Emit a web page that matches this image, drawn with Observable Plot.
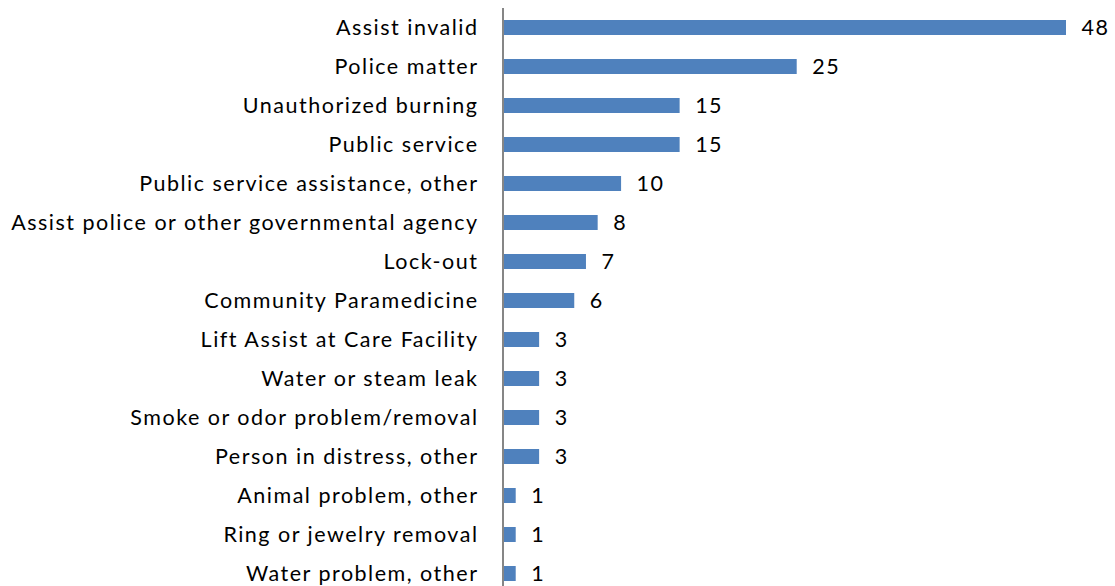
<!DOCTYPE html>
<html><head><meta charset="utf-8">
<script src="https://cdn.jsdelivr.net/npm/d3@7"></script>
<script src="https://cdn.jsdelivr.net/npm/@observablehq/plot@0.6"></script>
<style>
html,body{margin:0;padding:0;background:#fff;overflow:hidden;}
svg text{letter-spacing:1.5px;}
</style></head>
<body><div id="chart"></div>
<script>
const categories = ["Assist invalid","Police matter","Unauthorized burning","Public service","Public service assistance, other","Assist police or other governmental agency","Lock-out","Community Paramedicine","Lift Assist at Care Facility","Water or steam leak","Smoke or odor problem/removal","Person in distress, other","Animal problem, other","Ring or jewelry removal","Water problem, other"];
const values = [48,25,15,15,10,8,7,6,3,3,3,3,1,1,1];
const data = categories.map((c,i)=>({category:c, value:values[i]}));

const chart = Plot.plot({
  width: 1115,
  height: 586,
  marginLeft: 504,
  marginRight: 49,
  marginTop: 8,
  marginBottom: -7,
  style: {fontFamily: "Lato, sans-serif", fontSize: "21.5px", color: "#000", background: "#fff"},
  x: {domain: [0, 48], axis: null},
  y: {domain: categories, paddingInner: 0.615, paddingOuter: 0.3075, label: null},
  marks: [
    Plot.barX(data, {x: "value", y: "category", fill: "#4F81BD"}),
    Plot.text(data, {x: "value", y: "category", text: d => String(d.value), textAnchor: "start", dx: 15, fill: "#000", fontSize: 21.5}),
    Plot.axisY({tickSize: 0, tickPadding: 26, fontSize: 21.5, fill: "#000"}),
    Plot.ruleX([0], {stroke: "#868686", strokeWidth: 2, dx: -1.5})
  ]
});
document.getElementById("chart").appendChild(chart);
</script></body></html>
